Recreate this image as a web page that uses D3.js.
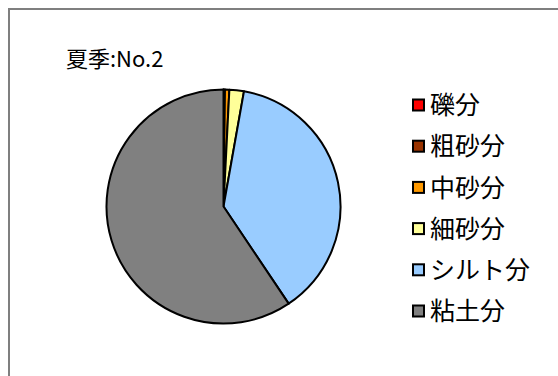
<!DOCTYPE html>
<html>
<head>
<meta charset="utf-8">
<script src="https://cdn.jsdelivr.net/npm/d3@7"></script>
<style>
  html, body { margin: 0; padding: 0; background: #fff; }
  svg { display: block; }
  text { font-family: "Noto Sans CJK JP", "Noto Sans", sans-serif; fill: #000; }
</style>
</head>
<body>
<svg id="chart" width="558" height="376"></svg>
<script>
// Particle size composition, summer sample No.2 (%)
const categories = ["礫分", "粗砂分", "中砂分", "細砂分", "シルト分", "粘土分"];
const values = [0.0, 0.2, 0.6, 2.0, 37.8, 59.4];
const colors = ["#ff0000", "#993300", "#ff9900", "#ffff99", "#99ccff", "#808080"];
const title = "夏季:No.2";

const svg = d3.select("#chart");

// Chart area frame (extends past the right and bottom of the view)
svg.append("rect")
  .attr("x", 9).attr("y", 9)
  .attr("width", 600).attr("height", 400)
  .attr("fill", "#fff")
  .attr("stroke", "#7f7f7f")
  .attr("stroke-width", 2);

svg.append("text")
  .attr("x", 66).attr("y", 67)
  .attr("font-size", 22)
  .text(title);

const cx = 223.5, cy = 206.5, r = 117;

const pie = d3.pie().sort(null).value(d => d.v);
const arc = d3.arc().innerRadius(0).outerRadius(r);
const data = categories.map((c, i) => ({ c, v: values[i], color: colors[i] }));

svg.append("g")
  .attr("transform", `translate(${cx},${cy})`)
  .selectAll("path")
  .data(pie(data))
  .join("path")
  .attr("d", arc)
  .attr("fill", d => d.data.color)
  .attr("stroke", "#000")
  .attr("stroke-width", 2)
  .attr("stroke-linejoin", "round");

// Legend
const legend = svg.append("g").attr("transform", "translate(413,105)");
const rowH = 41.2;
const item = legend.selectAll("g")
  .data(data)
  .join("g")
  .attr("transform", (d, i) => `translate(0,${i * rowH})`);

item.append("rect")
  .attr("x", 0).attr("y", -5.5)
  .attr("width", 11).attr("height", 11)
  .attr("fill", d => d.color)
  .attr("stroke", "#000")
  .attr("stroke-width", 2);

item.append("text")
  .attr("x", 17).attr("y", 0)
  .attr("dy", "0.37em")
  .attr("font-size", 25)
  .text(d => d.c);
</script>
</body>
</html>
